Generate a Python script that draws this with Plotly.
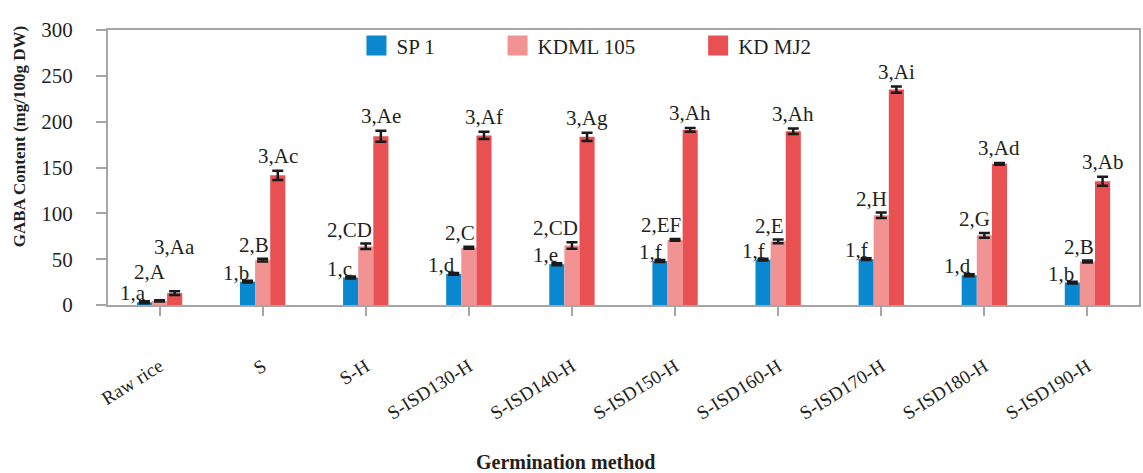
import plotly.graph_objects as go

categories = ["Raw rice", "S", "S-H", "S-ISD130-H", "S-ISD140-H", "S-ISD150-H",
              "S-ISD160-H", "S-ISD170-H", "S-ISD180-H", "S-ISD190-H"]
series_names = ["SP 1", "KDML 105", "KD MJ2"]
sp1 = [3, 25.5, 30, 34, 44.5, 48, 49.5, 50, 32.5, 24.5]
kdml105 = [4.5, 49, 64, 62.5, 65, 71, 69.5, 98, 76, 47.5]
kdmj2 = [13, 141.5, 184, 185, 183.5, 191, 189.5, 235, 154, 135]
sp1_err = [1, 1, 1, 1, 1, 1, 1, 1, 1, 1]
kdml105_err = [0.8, 1.5, 3, 1, 3.5, 1, 2, 3, 2.5, 1]
kdmj2_err = [2, 5, 6, 4, 4.5, 2, 3, 3.5, 1, 5]
labels_sp1 = ["1,a", "1,b", "1,c", "1,d", "1,e", "1,f", "1,f", "1,f", "1,d", "1,b"]
labels_kdml = ["2,A", "2,B", "2,CD", "2,C", "2,CD", "2,EF", "2,E", "2,H", "2,G", "2,B"]
labels_mj2 = ["3,Aa", "3,Ac", "3,Ae", "3,Af", "3,Ag", "3,Ah", "3,Ah", "3,Ai", "3,Ad", "3,Ab"]
y_ticks = [0, 50, 100, 150, 200, 250, 300]

colors = ["#0A88CF", "#F19293", "#E95052"]
FONT = "Liberation Serif"
TXT = "#231F20"
AX = "#A6A6A6"
BARGAP = 0.56

values = [sp1, kdml105, kdmj2]
errors = [sp1_err, kdml105_err, kdmj2_err]

fig = go.Figure()
for name, vals, errs, col in zip(series_names, values, errors, colors):
    fig.add_trace(go.Bar(
        x=categories, y=vals, name=name, marker=dict(color=col, line=dict(width=0)),
        error_y=dict(type="data", array=errs, color="#1A1A1A", thickness=2.5, width=5.5),
        showlegend=False,
    ))

# legend proxies (larger square swatches)
pad = "\u00a0" * 11
for name, col in zip(series_names, colors):
    fig.add_trace(go.Scatter(
        x=[None], y=[None], mode="markers", name=name + pad,
        marker=dict(symbol="square", size=16, color=col, line=dict(color=col, width=4)),
        showlegend=True,
    ))

bw = (1 - BARGAP) / 3
annotations = []
for i in range(len(categories)):
    y1 = sp1[i]
    y2 = max(kdml105[i] + kdml105_err[i] + 3, y1 + 21)
    y3 = max(kdmj2[i] + kdmj2_err[i] + 4, y2 + 27)
    annotations.append(dict(x=i - bw + 0.035, y=y1, text=labels_sp1[i], showarrow=False,
                            xanchor="right", yanchor="bottom", yshift=-5, xref="x", yref="y"))
    annotations.append(dict(x=i + bw / 2 + 0.005, y=y2, text=labels_kdml[i],
                            showarrow=False, xanchor="right", yanchor="bottom", yshift=-3,
                            xref="x", yref="y"))
    annotations.append(dict(x=i + bw, y=y3, text=labels_mj2[i], showarrow=False,
                            xanchor="center", yanchor="bottom", yshift=-3, xref="x", yref="y"))

annotations.append(dict(x=0.444, y=-0.571, xref="paper", yref="paper", text="<b>Germination method</b>",
                        showarrow=False, xanchor="center", yanchor="middle",
                        font=dict(family=FONT, size=20, color=TXT)))
annotations.append(dict(x=-0.085, y=0.611, xref="paper", yref="paper",
                        text="<b>GABA Content (mg/100g DW)</b>", textangle=-90,
                        showarrow=False, xanchor="center", yanchor="middle",
                        font=dict(family=FONT, size=17, color=TXT)))

fig.update_layout(
    width=1143, height=473,
    margin=dict(l=108, r=2, t=30, b=168),
    paper_bgcolor="white", plot_bgcolor="white",
    barmode="group", bargap=BARGAP, bargroupgap=0,
    font=dict(family=FONT, size=21, color=TXT),
    annotations=annotations,
    legend=dict(orientation="h", x=0.241, y=0.942, xanchor="left", yanchor="middle",
                itemsizing="trace", font=dict(family=FONT, size=21, color=TXT),
                bgcolor="rgba(0,0,0,0)"),
    xaxis=dict(type="category", range=[-0.5, 9.5], showline=True, linecolor=AX, linewidth=2,
               mirror=True, ticks="outside", ticklen=9, tickwidth=2, tickcolor=AX,
               tickangle=-32, tickfont=dict(family=FONT, size=19, color=TXT),
               ticklabelstandoff=32, showgrid=False, zeroline=False),
    yaxis=dict(range=[0, 300], tickvals=y_ticks, showline=True, linecolor=AX, linewidth=2,
               mirror=True, ticks="outside", ticklen=10, tickwidth=2, tickcolor=AX,
               tickfont=dict(family=FONT, size=21, color=TXT), ticklabelstandoff=19,
               showgrid=False, zeroline=False),
)

fig.write_html("out.html", config={"displayModeBar": False},
               post_script="document.body.style.margin='0';")
